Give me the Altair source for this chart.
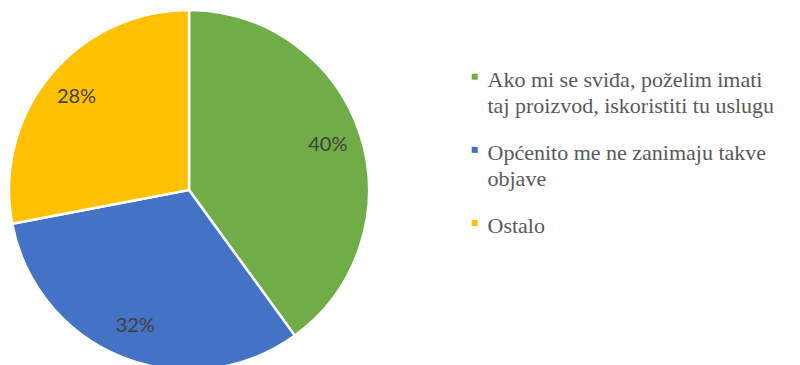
import altair as alt
import pandas as pd

# Survey answers and their shares (%)
categories = [
    "Ako mi se sviđa, poželim imati\ntaj proizvod, iskoristiti tu uslugu",
    "Općenito me ne zanimaju takve\nobjave",
    "Ostalo",
]
shares = [40, 32, 28]
colors = ["#70AD47", "#4472C4", "#FFC000"]

df = pd.DataFrame({
    "odgovor": categories,
    "udio": shares,
    "redoslijed": list(range(len(categories))),
})
df["oznaka"] = df["udio"].astype(str) + "%"

color_scale = alt.Scale(domain=categories, range=colors)
color = alt.Color("odgovor:N", scale=color_scale, legend=None)

base = alt.Chart(df).encode(
    theta=alt.Theta("udio:Q", stack=True),
    order=alt.Order("redoslijed:Q"),
)

pie = base.mark_arc(outerRadius=180, stroke="white", strokeWidth=2.5).encode(
    x=alt.value(189),
    y=alt.value(190),
    color=color,
)

labels = base.mark_text(
    radius=146,
    font="Lato",
    fontSize=20,
    color="#404040",
).encode(
    x=alt.value(189),
    y=alt.value(190),
    text="oznaka:N",
)

# Legend on the right: one row per answer, rows placed by their order
legend_y = alt.Y(
    "redoslijed:Q",
    scale=alt.Scale(domain=[0, 2], range=[86.7, 233]),
    axis=None,
)
legend_base = alt.Chart(df).encode(y=legend_y)

legend_symbols = legend_base.mark_point(
    shape="square", filled=True, size=36, opacity=1, yOffset=-10
).encode(
    x=alt.value(474.7),
    color=color,
)

legend_text = legend_base.mark_text(
    align="left",
    baseline="alphabetic",
    lineBreak="\n",
    lineHeight=26.6,
    font="Liberation Serif",
    fontSize=22,
    color="#595959",
).encode(
    x=alt.value(487.5),
    text="odgovor:N",
)

chart = (
    alt.layer(pie, labels, legend_symbols, legend_text)
    .properties(width=800, height=365, padding=0, autosize="none")
    .configure_view(stroke=None)
)

chart.save("out.html", embed_options={"renderer": "svg", "actions": False})
